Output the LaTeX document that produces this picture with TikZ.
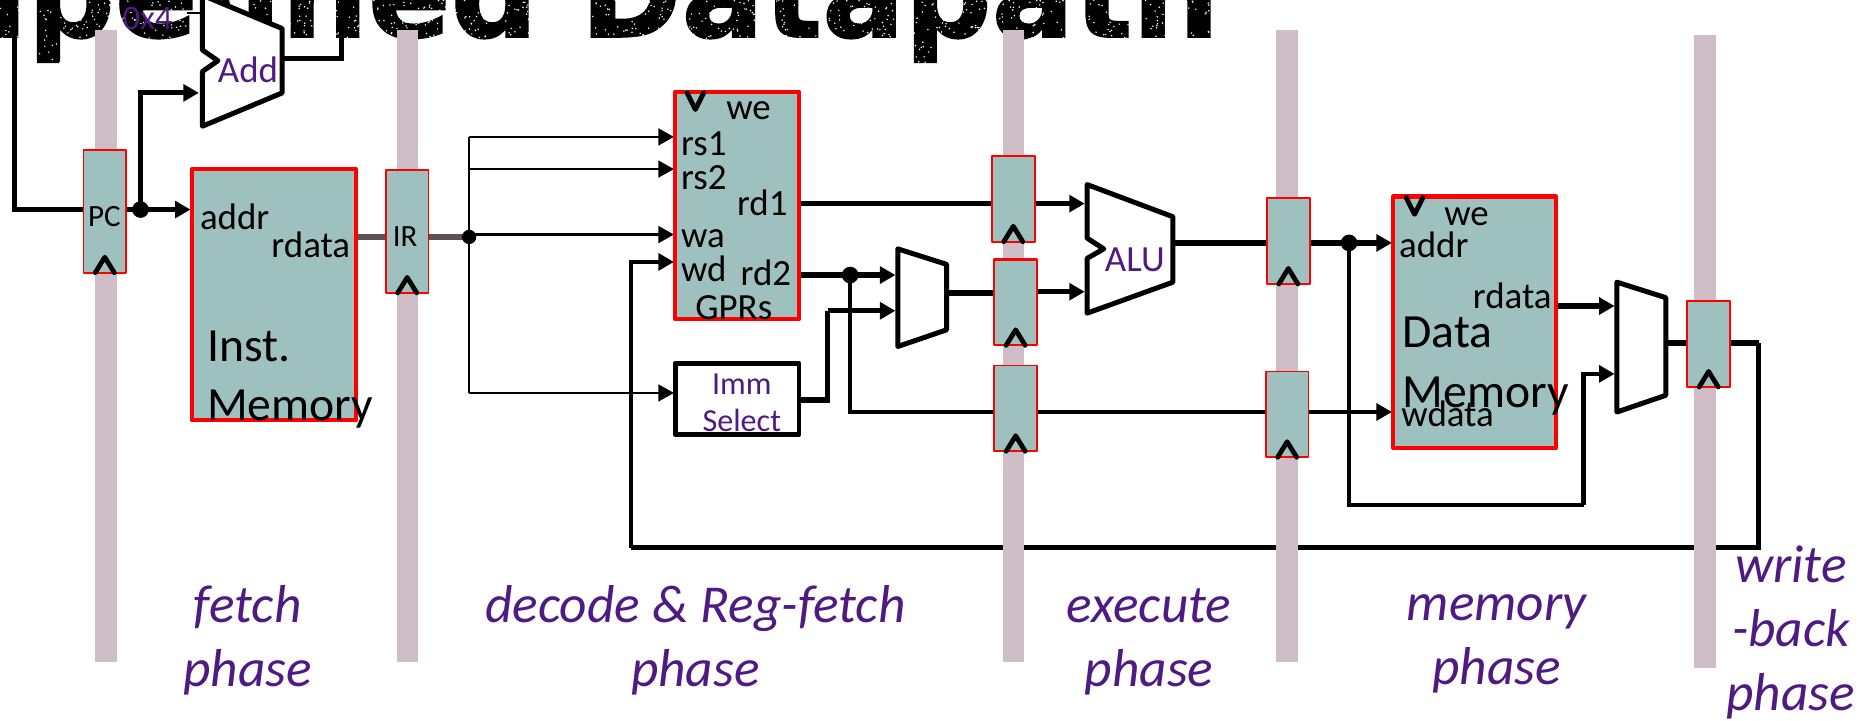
\documentclass[tikz,border=0pt]{standalone}
\usepackage{fontspec}
\setmainfont{Carlito}
\newfontfamily\titlefont[BoldFeatures={FakeBold=1.5}]{DejaVu Sans}
\usetikzlibrary{arrows.meta, calc}
\definecolor{regfill}{HTML}{9EC0BE}
\definecolor{barfill}{HTML}{CFBEC8}
\definecolor{labelpurple}{HTML}{4F1A82}
\definecolor{irwire}{HTML}{595153}
\pgfdeclarelayer{titlelayer}
\pgfdeclarelayer{wirelayer}
\pgfdeclarelayer{barlayer}
\pgfsetlayers{titlelayer,wirelayer,barlayer,main}

\begin{document}
\begin{tikzpicture}[x=0.5pt, y=-0.5pt, line join=round,
    every node/.style={inner sep=0, outer sep=0},
    reg/.style={rectangle, draw=red, line width=0.7pt, fill=regfill, minimum width=18pt},
    block/.style={rectangle, draw=red, line width=1.8pt, fill=regfill},
    immbox/.style={rectangle, draw=black, line width=2pt, fill=white, minimum width=52pt, minimum height=30pt},
    unit/.style={draw=black, line width=2.1pt, fill=white},
    clockmark/.style={draw=black, line width=2pt, line cap=round},
    wire/.style={draw=black, line width=2.2pt},
    midwire/.style={draw=black, line width=1.9pt},
    thinwire/.style={draw=black, line width=1pt},
    arrow/.style={-{Triangle[length=6.5pt,width=7pt]}, shorten >=0.5pt},
    port/.style={anchor=base west, font=\fontsize{15.5pt}{18pt}\selectfont},
    bigtext/.style={anchor=base west, font=\fontsize{20pt}{24pt}\selectfont},
    regname/.style={anchor=base west, font=\fontsize{13pt}{15pt}\selectfont},
    unitname/.style={anchor=base west, text=labelpurple, font=\fontsize{15.5pt}{18pt}\selectfont},
    phase/.style={text=labelpurple, align=center, font=\fontsize{22.4pt}{27pt}\selectfont\itshape},
]
\clip (0,0) rectangle (1568,605.5);

% title behind everything, with white specks
\begin{pgfonlayer}{titlelayer}
\node[anchor=base west, font=\fontsize{51.2pt}{60pt}\selectfont\titlefont\bfseries] (title) at (-87,31) {Pipelined Datapath};
\pgfmathsetseed{7}
\foreach \i in {1,...,1500}
  \fill[white] (rnd*1030, rnd*54) circle [radius=0.7];
\end{pgfonlayer}

% pipeline bars
\begin{pgfonlayer}{barlayer}
\foreach \x/\ytop/\ybot in {80/25/556, 333/25/556, 842/25/556, 1072/25/556, 1423/29/561}
  \fill[barfill] (\x,\ytop) rectangle (\x+18,\ybot);
\end{pgfonlayer}

% pipeline registers
\node[reg, minimum height=51.5pt] (regpc) at (88,177.5) {};
\node[reg, minimum height=51.5pt] (regir) at (342,194.5) {};
\node[reg, minimum height=36pt] (regxa) at (851,167) {};
\node[reg, minimum height=36pt, line width=1pt] (regxb) at (853,254) {};
\node[reg, minimum height=36pt] (regxc) at (853,343) {};
\node[reg, minimum height=36pt] (regma) at (1082,202.5) {};
\node[reg, minimum height=36pt] (regmb) at (1081,348) {};
\node[reg, minimum height=36pt] (regwb) at (1435,289) {};
\foreach \name in {regpc, regir, regxa, regxb, regxc, regma, regmb, regwb}
  \draw[clockmark] ($(\name.south)+(-8,0)$) -- ++(8,-13) -- ++(8,13);

% memories and register file
\node[block, minimum width=69pt, minimum height=105.5pt] (imem) at (230,247.5) {};
\node[block, minimum width=52pt, minimum height=95.5pt] (gprs) at (619,172.5) {};
\node[block, minimum width=68.5pt, minimum height=105.5pt] (dmem) at (1238.5,270.5) {};
\node[immbox] (immsel) at (619,335) {};
\draw[clockmark] (577,78) -- ++(7,14) -- ++(7,-14);
\draw[clockmark] (1181,166) -- ++(7,14) -- ++(7,-14);

% adder, alu, muxes
\draw[unit] (170,-4) -- (237,24) -- (237,78) -- (170,106) -- (170,60) -- (183,51) -- (170,42) -- cycle;
\draw[unit] (913,155) -- (985,182) -- (985,237) -- (913,263) -- (913,217) -- (927,209) -- (913,200) -- cycle;
\draw[unit] (754,209) -- (795,222) -- (795,277) -- (754,291) -- cycle;
\draw[unit] (1358,237) -- (1399,250) -- (1399,332) -- (1358,346) -- cycle;

\coordinate (jpc) at (118,176);
\coordinate (jir) at (394,199);
\coordinate (jrd) at (714,231);
\coordinate (jalu) at (1133,204);
\coordinate (pctop) at (12,-5);
\coordinate (addtop) at (287,-5);
\coordinate (addin) at (168,78);
\coordinate (addout) at (237,49);
\coordinate (addfour) at (157,11);
\coordinate (alua) at (912,171);
\coordinate (alub) at (912,245);
\coordinate (aluout) at (985,204);
\coordinate (muxa) at (753,231);
\coordinate (muxb) at (753,261);
\coordinate (muxout) at (795,246);
\coordinate (wbmuxa) at (1357,257);
\coordinate (wbmuxb) at (1357,314);
\coordinate (wbmuxout) at (1396,288);

\begin{pgfonlayer}{wirelayer}
% fetch
\draw[wire] (regpc.west |- jpc) -- (pctop |- jpc) -- (pctop);
\draw[wire] (regpc.east |- jpc) -- (jpc);
\draw[wire, arrow] (jpc) -- (imem.west |- jpc);
\draw[wire, arrow] (jpc) |- (addin);
\draw[wire] (addout) -| (addtop);
\draw[thinwire] (addfour) -- ++(12,0);
\draw[irwire, line width=2.2pt] (imem.east |- jir) -- (regir.west |- jir);
\draw[irwire, line width=2.2pt] (regir.east |- jir) -- (jir);
% decode
\draw[thinwire] (jir |- 0,115) -- (jir |- 0,330);
\draw[thinwire, arrow] (jir |- 0,115) -- (gprs.west |- 0,115);
\draw[thinwire, arrow] (jir |- 0,142) -- (gprs.west |- 0,142);
\draw[thinwire, arrow] (jir |- 0,197) -- (gprs.west |- 0,197);
\draw[thinwire, arrow] (jir |- 0,330) -- (immsel.west |- 0,330);
\draw[wire] (gprs.east |- 0,171) -- (regxa.west |- 0,171);
\draw[wire, arrow] (regxa.east |- alua) -- (alua);
\draw[wire] (gprs.east |- jrd) -- (jrd);
\draw[wire, arrow] (jrd) -- (muxa);
\draw[wire] (immsel.east |- 0,336) -- (695,336) -- (695,261);
\draw[wire, arrow] (695,261) -- (muxb);
\draw[wire] (muxout) -- (regxb.west |- muxout);
\draw[wire, arrow] (regxb.east |- alub) -- (alub);
\draw[midwire] (jrd) |- (regxc.west |- 0,346);
% execute
\draw[midwire] (regxc.east |- 0,346) -- (regmb.west |- 0,346);
\draw[wire] (aluout) -- (regma.west |- aluout);
\draw[wire, arrow] (regma.east |- jalu) -- (dmem.west |- jalu);
\draw[midwire, arrow] (regmb.east |- 0,346) -- (dmem.west |- 0,346);
% memory and write back
\draw[midwire] (jalu) |- (1330,424);
\draw[midwire, arrow] (1330,424) |- (wbmuxb);
\draw[wire, arrow] (dmem.east |- wbmuxa) -- (wbmuxa);
\draw[wire] (wbmuxout) -- (regwb.west |- wbmuxout);
\draw[wire] (regwb.east |- wbmuxout) -- (1477,288);
\draw[midwire] (1477,288) |- (530,460);
\draw[midwire, arrow] (530,460) |- (gprs.west |- 0,220);
\end{pgfonlayer}

\fill (jpc) circle [radius=7];
\fill (jir) circle [radius=6];
\fill (jrd) circle [radius=7];
\fill (jalu) circle [radius=7];

% block texts
\node[port] (iaddr) at (168,193) {addr};
\node[port] (irdata) at (228,216) {rdata};
\node[bigtext] (iname) at (174,304) {Inst.};
\node[bigtext] (imemname) at (174,353) {Memory};
\node[port] (gwe) at (610,100) {we};
\node[port] (grsa) at (572,131) {rs1};
\node[port] (grsb) at (572,159) {rs2};
\node[port] (grda) at (619,181) {rd1};
\node[port] (gwa) at (572,208) {wa};
\node[port] (gwd) at (572,236) {wd};
\node[port] (grdb) at (622,240) {rd2};
\node[port] (gname) at (584,268) {GPRs};
\node[port] (dwe) at (1213,189) {we};
\node[port] (daddr) at (1175,216) {addr};
\node[port] (drdata) at (1237,259) {rdata};
\node[bigtext] (dname) at (1178,292) {Data};
\node[bigtext] (dmemname) at (1178,342) {Memory};
\node[port] (dwdata) at (1177,358) {wdata};
\node[regname] (pcname) at (74,190) {PC};
\node[regname] (irname) at (330,207) {IR};
\node[unitname] (addname) at (183,69) {Add};
\node[unitname] (aluname) at (928,228) {ALU};
\node[unitname, font=\fontsize{14.5pt}{17pt}\selectfont] (fourname) at (103,25) {0x4};
\node[unitname, font=\fontsize{13.5pt}{16pt}\selectfont] (immname) at (598,331) {Imm};
\node[unitname, font=\fontsize{13.5pt}{16pt}\selectfont] (selname) at (590,362) {Select};

% phase names
\node[phase] (fetchphase) at (208,538) {fetch\\phase};
\node[phase] (decodephase) at (584,538) {decode \& Reg-fetch\\phase};
\node[phase] (execphase) at (965,539) {execute\\phase};
\node[phase] (memphase) at (1257,541) {memory\\phase};
\node[phase] (wbphase) at (1504,531) {write\\-back\\phase};
\end{tikzpicture}
\end{document}
